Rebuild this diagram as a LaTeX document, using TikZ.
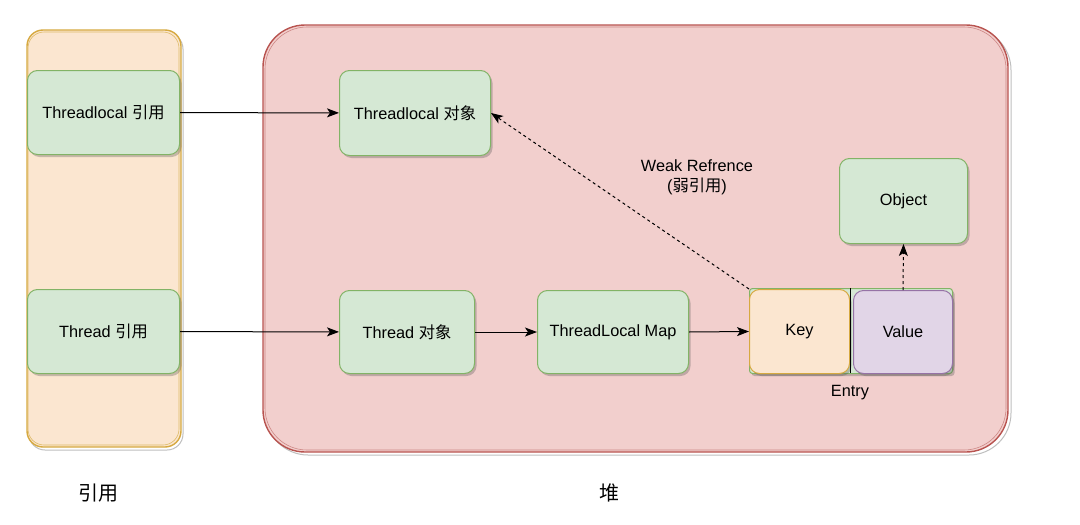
\documentclass[tikz,border=0pt]{standalone}
\usepackage{fontspec}
\setmainfont{Liberation Sans}
\newfontfamily\cjk{Noto Sans CJK SC}
\usetikzlibrary{shadows,arrows.meta}
\definecolor{gfill}{HTML}{D5E8D4}
\definecolor{gline}{HTML}{82B366}
\definecolor{ofill}{HTML}{FBE6D0}
\definecolor{oline}{HTML}{D6A940}
\definecolor{rfill}{HTML}{F2CFCD}
\definecolor{rline}{HTML}{B85450}
\definecolor{pfill}{HTML}{E1D5E7}
\definecolor{pline}{HTML}{9673A6}
\tikzset{
  shad/.style={drop shadow={shadow xshift=2pt,shadow yshift=-2.5pt,opacity=0.3,fill=black!70}},
  gbox/.style={draw=gline,fill=gfill,line width=1pt,rounded corners=10pt,inner sep=0pt,anchor=north west,shad,font=\fontsize{16.3}{19}\selectfont},
  obox/.style={gbox,draw=oline,fill=ofill},
  pbox/.style={gbox,draw=pline,fill=pfill},
  arr/.style={line width=1pt,-{Stealth[length=12pt,width=9pt,inset=3pt]}},
  darr/.style={arr,dash pattern=on 3pt off 3pt},
  lbl/.style={font=\fontsize{16.3}{19}\selectfont,align=center,inner sep=0pt},
  big/.style={font=\cjk\fontsize{20}{22}\selectfont,inner sep=0pt}
}
\begin{document}
\begin{tikzpicture}[x=1pt,y=-1pt]
\useasboundingbox[fill=white] (0,0) rectangle (1080,525);
% containers (sketchy double outline)
\draw[gray!50,line width=1pt,rounded corners=16pt] (29,33) rectangle (183,450);
\draw[oline,fill=ofill,line width=1.4pt,rounded corners=16pt] (27,30) rectangle (181,447);
\draw[oline!80,line width=0.6pt,rounded corners=16pt] (28,32) rectangle (179,445);
\draw[gray!50,line width=1pt,rounded corners=42pt] (266,28) rectangle (1011,455);
\draw[rline,fill=rfill,line width=1.4pt,rounded corners=42pt] (263,25) rectangle (1008,452);
\draw[rline!70,line width=0.6pt,rounded corners=42pt] (265,27) rectangle (1006,450);
% nodes
\node[gbox,minimum width=152pt,minimum height=84pt] (tlref) at (27,70) {Threadlocal {\cjk 引用}};
\node[gbox,minimum width=152pt,minimum height=84pt] (tref) at (27,289) {Thread {\cjk 引用}};
\node[gbox,minimum width=151pt,minimum height=85pt] (tlobj) at (339,70) {Threadlocal {\cjk 对象}};
\node[gbox,minimum width=135pt,minimum height=83pt] (tobj) at (339,290) {Thread {\cjk 对象}};
\node[gbox,minimum width=151pt,minimum height=83pt] (map) at (537,290) {ThreadLocal Map};
\node[gbox,minimum width=128pt,minimum height=85pt] (obj) at (839,158) {Object};
\node[gbox,rounded corners=3pt,minimum width=203pt,minimum height=85pt] (entry) at (749,288) {};
\node[obox,minimum width=100pt,minimum height=84pt] (key) at (749,289) {Key};
\node[pbox,minimum width=99pt,minimum height=83pt] (val) at (853,290) {Value};
\draw[black,line width=0.8pt] (entry.north) ++(-0.5,0) -- ++(0,85);
\node[lbl,anchor=north] (entrylbl) at (850,385) {Entry};
\node[lbl] (weak) at (697,177) {Weak Refrence\\[1pt]({\cjk 弱引用})};
\node[big] (l1) at (98,493) {引用};
\node[big] (l2) at (609,493) {堆};
% connectors
\draw[arr] (tlref) -- (tlobj);
\draw[arr] (tref) -- (tobj);
\draw[arr] (tobj) -- (map);
\draw[arr] (map.east) -- (key.west);
\draw[darr] (key.north west) -- (tlobj.east);
\draw[darr] (val.north) -- (obj.south);
\end{tikzpicture}
\end{document}
